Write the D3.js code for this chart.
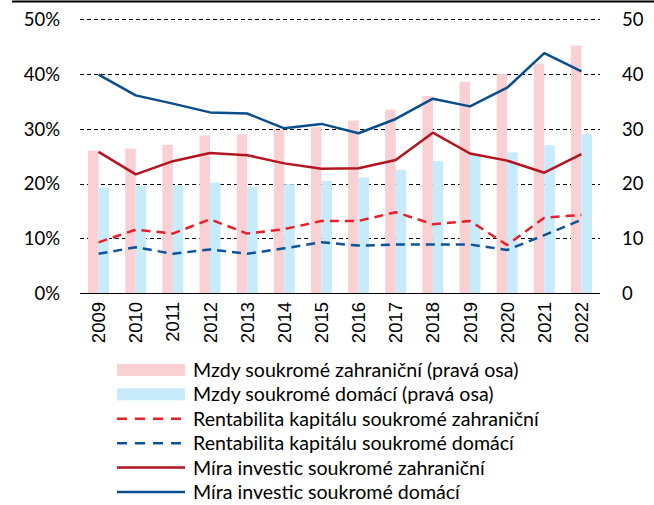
<!DOCTYPE html>
<html><head><meta charset="utf-8">
<script src="https://cdn.jsdelivr.net/npm/d3@7"></script>
<style>body{margin:0;background:#fff}svg{display:block}</style>
</head><body>
<svg id="c" width="654" height="505"></svg>
<script>
const years = ["2009","2010","2011","2012","2013","2014","2015","2016","2017","2018","2019","2020","2021","2022"];
const mzdyZahr = [26.0,26.4,27.1,28.8,29.0,29.8,30.3,31.5,33.5,36.0,38.6,40.0,41.9,45.2];
const mzdyDom  = [19.3,19.6,19.7,20.2,19.4,19.9,20.5,21.1,22.5,24.1,25.4,25.7,27.0,29.0];
const rentZahr = [9.3,11.6,10.9,13.5,10.9,11.7,13.2,13.2,14.8,12.6,13.2,8.8,13.8,14.3];
const rentDom  = [7.2,8.4,7.2,8.0,7.2,8.2,9.3,8.7,8.9,8.9,8.9,7.9,10.6,13.4];
const miraZahr = [25.8,21.7,24.1,25.6,25.2,23.7,22.7,22.8,24.3,29.3,25.5,24.2,22.0,25.4];
const miraDom  = [39.9,36.1,34.6,33.0,32.8,30.1,30.9,29.2,31.8,35.5,34.1,37.5,43.8,40.5];
const leftTicks = [0,10,20,30,40,50];
const rightTicks = [0,10,20,30,40,50];
const legendLabels = ["Mzdy soukromé zahraniční (pravá osa)","Mzdy soukromé domácí (pravá osa)","Rentabilita kapitálu soukromé zahraniční","Rentabilita kapitálu soukromé domácí","Míra investic soukromé zahraniční","Míra investic soukromé domácí"];

const C = {pink:"#f9d0d3", lblue:"#c7ebfb", rdash:"#e6202b", bdash:"#0c5499", rsolid:"#b3141f", bsolid:"#0a4d8c"};
const svg = d3.select("#c");
const L=80, R=600, T=19.2, B=293.3;
const x = d3.scaleBand().domain(years).range([L,R]).paddingInner(0.435).paddingOuter(0.2175);
const yL = d3.scaleLinear().domain([0,50]).range([B,T]);
const yR = d3.scaleLinear().domain([0,50]).range([B,T]);
const bw = x.bandwidth();
const xs = d3.scaleBand().domain([0,1]).range([0,bw]);

// top rule
svg.append("line").attr("x1",12).attr("x2",654).attr("y1",1.5).attr("y2",1.5).attr("stroke","#000").attr("stroke-width",2);

// grid
svg.append("g").selectAll("line").data(leftTicks.filter(d=>d>0)).join("line")
  .attr("x1",L).attr("x2",R).attr("y1",d=>Math.round(yL(d))+0.5).attr("y2",d=>Math.round(yL(d))+0.5)
  .attr("stroke","#000").attr("stroke-width",1).attr("stroke-dasharray","4,3");

// bars
const g = svg.append("g");
g.selectAll(".bz").data(mzdyZahr).join("rect").attr("x",(d,i)=>x(years[i])+xs(0)).attr("width",xs.bandwidth())
  .attr("y",d=>yR(d)).attr("height",d=>B-yR(d)).attr("fill",C.pink);
g.selectAll(".bd").data(mzdyDom).join("rect").attr("x",(d,i)=>x(years[i])+xs(1)).attr("width",xs.bandwidth())
  .attr("y",d=>yR(d)).attr("height",d=>B-yR(d)).attr("fill",C.lblue);

// axis line
svg.append("line").attr("x1",L).attr("x2",R).attr("y1",Math.round(B)+0.5).attr("y2",Math.round(B)+0.5).attr("stroke","#000").attr("stroke-width",1.2);

// lines
const lineGen = d3.line().x((d,i)=>x(years[i])+bw/2).y(d=>yL(d));
const series = [
  [rentZahr,C.rdash,"9,6"],[rentDom,C.bdash,"9,6"],[miraZahr,C.rsolid,null],[miraDom,C.bsolid,null]];
series.forEach(([data,col,dash])=>{
  svg.append("path").attr("d",lineGen(data)).attr("fill","none").attr("stroke",col).attr("stroke-width",2.5)
    .attr("stroke-dasharray",dash).attr("stroke-linejoin","round");
});

// left axis labels
svg.append("g").selectAll("text").data(leftTicks).join("text")
  .attr("x",60).attr("y",d=>yL(d)).attr("dy","0.36em").attr("text-anchor","end")
  .attr("font-family","Lato, sans-serif").attr("font-size",18.5).attr("fill","#000").text(d=>d+"%");
svg.append("g").selectAll("text").data(rightTicks).join("text")
  .attr("x",622).attr("y",d=>yR(d)).attr("dy","0.36em").attr("text-anchor","start")
  .attr("font-family","Lato, sans-serif").attr("font-size",18.5).attr("fill","#000").text(d=>d);

// x labels
svg.append("g").selectAll("text").data(years).join("text")
  .attr("transform",d=>`translate(${x(d)+bw/2+6.5},302) rotate(-90)`)
  .attr("text-anchor","end").attr("font-family","Liberation Sans, Arial, sans-serif").attr("font-size",18.5)
  .attr("fill","#000").text(d=>d);

// legend
const lg = svg.append("g");
const types = [["rect",C.pink],["rect",C.lblue],["dash",C.rdash],["dash",C.bdash],["line",C.rsolid],["line",C.bsolid]];
legendLabels.forEach((lab,i)=>{
  const yy = 370 + i*24.4;
  const [t,col] = types[i];
  if(t==="rect") lg.append("rect").attr("x",117).attr("y",yy-6).attr("width",68).attr("height",12).attr("fill",col);
  else lg.append("line").attr("x1",117).attr("x2",185).attr("y1",yy).attr("y2",yy).attr("stroke",col).attr("stroke-width",2.5)
      .attr("stroke-dasharray",t==="dash"?"10,8":null);
  lg.append("text").attr("x",193).attr("y",yy).attr("dy","0.36em").attr("font-family","Lato, sans-serif")
    .attr("font-size",19.6).attr("fill","#000").text(lab);
});
</script>
</body></html>
